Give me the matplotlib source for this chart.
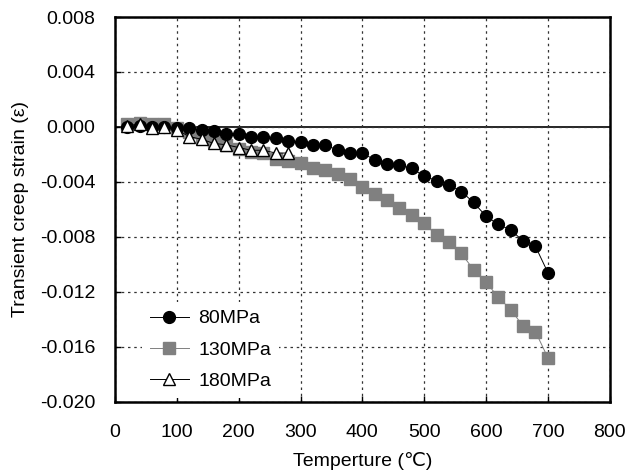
import matplotlib
matplotlib.use("Agg")
import matplotlib.pyplot as plt

plt.rcParams['font.family'] = ['Liberation Sans', 'DejaVu Sans']

# temperatures (C)
temp = [20, 40, 60, 80, 100, 120, 140, 160, 180, 200, 220, 240, 260, 280, 300,
        320, 340, 360, 380, 400, 420, 440, 460, 480, 500, 520, 540, 560, 580,
        600, 620, 640, 660, 680, 700]

strain_80 = [0.0000, 0.0001, 0.0000, 0.0000, -0.0001, -0.0001, -0.0002, -0.0003,
             -0.0005, -0.0005, -0.0007, -0.0007, -0.0008, -0.0010, -0.0011,
             -0.0013, -0.0013, -0.0017, -0.0019, -0.0019, -0.0024, -0.0027,
             -0.0028, -0.0030, -0.0036, -0.0039, -0.0042, -0.0047, -0.0055,
             -0.0065, -0.0071, -0.0075, -0.0083, -0.0087, -0.0106]

strain_130 = [0.0002, 0.0003, 0.0002, 0.0002, -0.0001, -0.0004, -0.0008, -0.0010,
              -0.0013, -0.0016, -0.0018, -0.0019, -0.0023, -0.0025, -0.0026,
              -0.0030, -0.0031, -0.0034, -0.0038, -0.0044, -0.0049, -0.0053,
              -0.0059, -0.0064, -0.0070, -0.0079, -0.0084, -0.0092, -0.0104,
              -0.0113, -0.0124, -0.0133, -0.0145, -0.0149, -0.0168]

temp_180 = [20, 40, 60, 80, 100, 120, 140, 160, 180, 200, 220, 240, 260, 280]
strain_180 = [0.0001, 0.0002, -0.0001, 0.0000, -0.0002, -0.0007, -0.0009,
              -0.0012, -0.0013, -0.0015, -0.0017, -0.0017, -0.0019, -0.0019]

xticks = [0, 100, 200, 300, 400, 500, 600, 700, 800]
yticks = [0.008, 0.004, 0.0, -0.004, -0.008, -0.012, -0.016, -0.020]

fig = plt.figure(figsize=(6.27, 4.70), dpi=100)
ax = fig.add_axes([0.1834, 0.1453, 0.7890, 0.8185])

ax.plot(temp, strain_80, color='black', lw=0.7, marker='o', ms=8.5,
        mfc='black', mec='black', label='80MPa', zorder=3)
ax.plot(temp, strain_130, color='#808080', lw=0.7, marker='s', ms=8,
        mfc='#808080', mec='#808080', label='130MPa', zorder=2)
ax.plot(temp_180, strain_180, color='black', lw=0.7, marker='^', ms=8.5,
        mfc='white', mec='black', mew=1.0, label='180MPa', zorder=4)

ax.axhline(0, color='black', lw=1.2, zorder=1)

ax.set_xlim(0, 800)
ax.set_ylim(-0.020, 0.008)
ax.set_xticks(xticks)
ax.set_yticks(yticks)
ax.set_yticklabels(['%.3f' % v for v in yticks])
ax.grid(True, linestyle=(0, (2, 3)), color='#333333', lw=0.9)
ax.tick_params(direction='in', length=4, width=1, labelsize=14)
ax.tick_params(axis='x', pad=16)
ax.tick_params(axis='y', pad=14)
for s in ax.spines.values():
    s.set_linewidth(1.8)

ax.set_xlabel('Temperture (℃)', fontsize=14, labelpad=8)
ax.set_ylabel('Transient creep strain (ε)', fontsize=14, labelpad=8)

leg = ax.legend(loc='center left', bbox_to_anchor=(0.055, 0.135), frameon=True,
                fontsize=14, labelspacing=0.7, handlelength=2.0,
                handletextpad=0.5, borderaxespad=0)
leg.get_frame().set_edgecolor('none')
leg.get_frame().set_facecolor('white')
leg.get_frame().set_alpha(1)

fig.savefig('out.png', dpi=100)
